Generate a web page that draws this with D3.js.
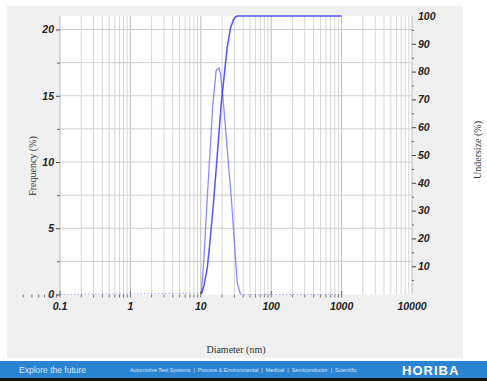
<!DOCTYPE html>
<html>
<head>
<meta charset="utf-8">
<script src="https://cdn.jsdelivr.net/npm/d3@7"></script>
<style>
  body { margin: 0; background: #fff; }
  svg { display: block; }
  .tick-label { font-family: 'Liberation Sans', Arial, sans-serif; font-style: italic; font-weight: bold; font-size: 10.5px; fill: #222; }
  .title { font-family: 'Liberation Serif', 'Times New Roman', serif; font-size: 10px; fill: #333; }
</style>
</head>
<body>
<script>
// values
const freqDiameter = [0.1, 10.2, 11.1, 12.3, 14.8, 16.5, 18.0, 19.0, 21.0, 27.3, 32.9, 36.6, 1000]
const freqPercent = [0, 0.1, 2.8, 7.1, 14.3, 16.9, 17.1, 16.7, 14.4, 7.1, 0.9, 0, 0]

const underDiameter = [10.2, 11.1, 12.3, 13.3, 15.3, 19.6, 23.7, 26.4, 29.0, 31.1, 33.0, 1000]
const underPercent = [0, 3, 9, 17, 34, 69, 88.5, 95.6, 98.5, 99.6, 100, 100]

const xLabels = [0.1, 1, 10, 100, 1000, 10000]
const freqTicks = [0, 5, 10, 15, 20]
const underTicks = [10, 20, 30, 40, 50, 60, 70, 80, 90, 100]
const footerLinks = 'Automotive Test Systems  |  Process & Environmental  |  Medical  |  Semiconductor  |  Scientific'

const width = 487
const height = 381
const plot = { left: 60, right: 412, top: 16, bottom: 294.5 }

const svg = d3.select('body').append('svg')
  .attr('width', width)
  .attr('height', height)

// panel + plot background
svg.append('rect')
  .attr('x', 7).attr('y', 6).attr('width', 456).attr('height', 352)
  .attr('fill', '#f0f0f0')

svg.append('rect')
  .attr('x', plot.left).attr('y', plot.top)
  .attr('width', plot.right - plot.left).attr('height', plot.bottom - plot.top)
  .attr('fill', '#fff')

const x = d3.scaleLog().domain([0.1, 10000]).range([plot.left, plot.right])
const yFreq = d3.scaleLinear().domain([0, 21.02]).range([plot.bottom, plot.top])
const yUnder = d3.scaleLinear().domain([0, 100]).range([294, plot.top])

// log grid: 1..9 in every decade
const gridValues = []
for (let p = -1; p < 4; p++) {
  for (let m = 1; m < 10; m++) gridValues.push(m * Math.pow(10, p))
}
gridValues.push(10000)

const grid = svg.append('g')
grid.selectAll('line.v')
  .data(gridValues)
  .join('line')
  .attr('class', 'v')
  .attr('x1', d => x(d)).attr('x2', d => x(d))
  .attr('y1', plot.top).attr('y2', plot.bottom)
  .attr('stroke', d => Number.isInteger(Math.log10(d)) ? '#bdbdbd' : '#d6d6d6')
  .attr('stroke-width', 1)

grid.selectAll('line.h')
  .data(d3.range(2.5, 21, 2.5))
  .join('line')
  .attr('class', 'h')
  .attr('x1', plot.left).attr('x2', plot.right)
  .attr('y1', d => yFreq(d)).attr('y2', d => yFreq(d))
  .attr('stroke', '#cfcfcf')

// left axis
const leftAxis = svg.append('g')
  .attr('transform', `translate(${plot.left},0)`)
  .call(d3.axisLeft(yFreq).tickValues(freqTicks).tickSize(4).tickPadding(2).tickFormat(d3.format('d')))
leftAxis.select('.domain').remove()
leftAxis.selectAll('line').attr('stroke', '#444')
leftAxis.selectAll('text').attr('class', 'tick-label').attr('font-family', null).attr('font-size', null)

svg.append('g')
  .attr('transform', `translate(${plot.left},0)`)
  .call(d3.axisLeft(yFreq).tickValues(d3.range(2.5, 20, 5)).tickSize(3).tickFormat(''))
  .call(g => g.select('.domain').remove())
  .selectAll('line').attr('stroke', '#666')

// right axis
const rightAxis = svg.append('g')
  .attr('transform', `translate(${plot.right},0)`)
  .call(d3.axisRight(yUnder).tickValues(underTicks).tickSize(4).tickPadding(2).tickFormat(d3.format('d')))
rightAxis.select('.domain').remove()
rightAxis.selectAll('line').attr('stroke', '#444')
rightAxis.selectAll('text').attr('class', 'tick-label').attr('font-family', null).attr('font-size', null)
rightAxis.selectAll('.tick').filter(d => d === 100).select('line').remove()

svg.append('g')
  .attr('transform', `translate(${plot.right},0)`)
  .call(d3.axisRight(yUnder).tickValues(d3.range(5, 100, 10)).tickSize(2).tickFormat(''))
  .call(g => g.select('.domain').remove())
  .selectAll('line').attr('stroke', '#666')

// bottom axis: minor ticks from 0.03 to 1000
const minorX = []
for (let p = -2; p < 3; p++) {
  for (let m = 1; m < 10; m++) {
    const v = m * Math.pow(10, p)
    if (v >= 0.03) minorX.push(v)
  }
}
minorX.push(1000)

svg.append('g')
  .selectAll('line')
  .data(minorX)
  .join('line')
  .attr('x1', d => x(d)).attr('x2', d => x(d))
  .attr('y1', d => Number.isInteger(Math.log10(d)) ? 291 : 294.5)
  .attr('y2', 297.5)
  .attr('stroke', '#555')
  .attr('stroke-width', 0.8)

svg.append('g')
  .selectAll('text')
  .data(xLabels)
  .join('text')
  .attr('class', 'tick-label')
  .attr('x', d => x(d))
  .attr('y', 310)
  .attr('text-anchor', 'middle')
  .text(d => d < 1 ? d3.format('.1f')(d) : d3.format('d')(d))

// curves
const freqLine = d3.line()
  .x((d, i) => x(freqDiameter[i]))
  .y(d => yFreq(d))

const underLine = d3.line()
  .x((d, i) => x(underDiameter[i]))
  .y(d => yUnder(d))

// zero stretches of the frequency curve show up only faintly (dotted)
const last = freqPercent.length - 1
svg.append('path')
  .datum(freqPercent)
  .attr('d', freqLine.defined((d, i) => i <= 1 || i >= last - 1))
  .attr('fill', 'none')
  .attr('stroke', '#7a7aff')
  .attr('stroke-opacity', 0.6)
  .attr('stroke-width', 1)
  .attr('stroke-dasharray', '1.5,2')

svg.append('path')
  .datum(freqPercent)
  .attr('d', freqLine.defined((d, i) => i >= 1 && i <= last - 1))
  .attr('fill', 'none')
  .attr('stroke', '#5a5aff')
  .attr('stroke-opacity', 0.7)
  .attr('stroke-width', 1.3)

svg.append('path')
  .datum(underPercent)
  .attr('d', underLine)
  .attr('fill', 'none')
  .attr('stroke', '#2a2aff')
  .attr('stroke-opacity', 0.8)
  .attr('stroke-width', 1.5)

// axis titles
svg.append('text')
  .attr('class', 'title')
  .attr('transform', 'translate(36,166) rotate(-90)')
  .attr('text-anchor', 'middle')
  .text('Frequency (%)')

svg.append('text')
  .attr('class', 'title')
  .attr('transform', 'translate(481,150) rotate(-90)')
  .attr('text-anchor', 'middle')
  .text('Undersize (%)')

svg.append('text')
  .attr('class', 'title')
  .attr('x', 236)
  .attr('y', 353)
  .attr('text-anchor', 'middle')
  .text('Diameter (nm)')

// footer band
svg.append('rect')
  .attr('x', 0).attr('y', 361).attr('width', width).attr('height', 17)
  .attr('fill', '#2a84d2')
svg.append('rect')
  .attr('x', 0).attr('y', 378).attr('width', width).attr('height', 3)
  .attr('fill', '#111')

svg.append('text')
  .attr('x', 19).attr('y', 373)
  .attr('font-family', 'Liberation Sans, Arial, sans-serif')
  .attr('font-size', 8.5)
  .attr('fill', '#d8e8f8')
  .text('Explore the future')

svg.append('text')
  .attr('x', 130).attr('y', 372)
  .attr('font-family', 'Liberation Sans, Arial, sans-serif')
  .attr('font-size', 5.4)
  .attr('fill', '#d8e8f8')
  .attr('xml:space', 'preserve')
  .text(footerLinks)

svg.append('text')
  .attr('x', 402).attr('y', 374.5)
  .attr('font-family', 'Liberation Sans, Arial, sans-serif')
  .attr('font-weight', 'bold')
  .attr('font-size', 13)
  .attr('letter-spacing', 1)
  .attr('fill', '#fff')
  .text('HORIBA')
</script>
</body>
</html>
